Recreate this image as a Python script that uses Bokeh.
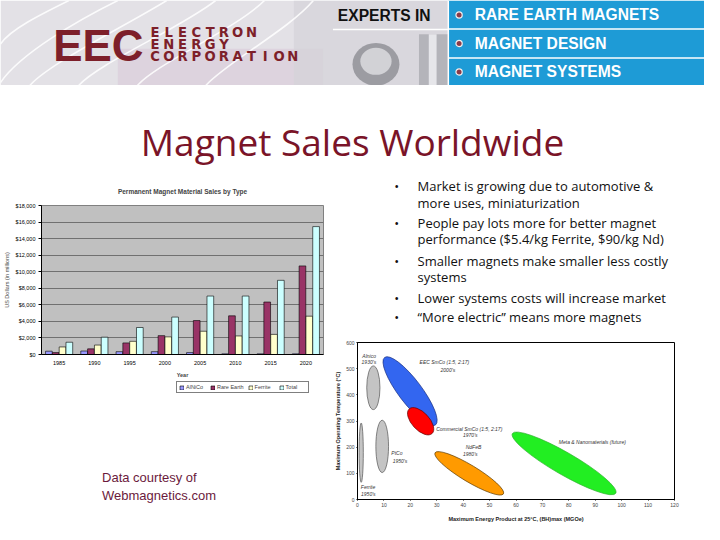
from bokeh.plotting import figure
from bokeh.models import (Range1d, FactorRange, ColumnDataSource, Legend, LegendItem,
                          NumeralTickFormatter, FixedTicker)
from bokeh.layouts import column, row
from bokeh.transform import dodge
from bokeh.core.properties import value
from bokeh.embed import file_html
from bokeh.resources import INLINE

# ---------------- data: bar chart ----------------
years = ["1985", "1990", "1995", "2000", "2005", "2010", "2015", "2020"]
alnico = [400, 420, 340, 340, 230, 80, 80, 80]
rare_earth = [230, 680, 1400, 2280, 4100, 4670, 6340, 10700]
ferrite = [910, 1140, 1590, 2130, 2810, 2240, 2430, 4630]
total = [1480, 2090, 3260, 4520, 7060, 7060, 8960, 15450]
series_names = ["AlNiCo", "Rare Earth", "Ferrite", "Total"]
sales_ticks = [0, 2000, 4000, 6000, 8000, 10000, 12000, 14000, 16000, 18000]

# ---------------- data: material map ----------------
materials = ["Ferrite", "Alnico", "PtCo", "EEC SmCo", "Commercial SmCo", "NdFeB", "Nanomaterials"]
mat_bh = [1.4, 6.0, 9.35, 19.9, 23.9, 42.3, 78.2]
mat_temp = [179, 427, 203, 414, 299, 100, 138]
mat_bh_span = [1.6, 5.0, 4.8, 32.0, 12.7, 30.2, 45.2]
mat_temp_span = [227, 167, 200, 89, 67, 63, 85]
mat_tilt = [0, 0, 0, -53, -47, -31, -30]
bh_ticks = [0, 10, 20, 30, 40, 50, 60, 70, 80, 90, 100, 110, 120]
temp_ticks = [0, 100, 200, 300, 400, 500, 600]

ann_text = ["Alnico", "1930's", "EEC SmCo (1:5, 2:17)", "2000's",
            "Commercial SmCo (1:5, 2:17)", "1970's", "NdFeB", "1980's",
            "Meta & Nanomaterials (future)", "PtCo", "1950's", "Ferrite", "1950's"]
ann_bh = [4.4, 4.3, 32.9, 34.2, 42.3, 42.7, 43.9, 42.7, 88.9, 14.9, 16.1, 4.0, 4.1]
ann_temp = [550, 524, 526, 496, 270, 247, 200, 173, 220, 176, 148, 47, 22]

bullets = [
    ["Market is growing due to automotive &", "more uses, miniaturization"],
    ["People pay lots more for better magnet", "performance ($5.4/kg Ferrite, $90/kg Nd)"],
    ["Smaller magnets make smaller less costly", "systems"],
    ["Lower systems costs will increase market"],
    ["\u201cMore electric\u201d means more magnets"],
]

FS = 0.975


def fpx(v):
    return f"{v * FS:.1f}px"


def canvas(w, h, x0, x1, y0, y1):
    p = figure(width=w, height=h, x_range=Range1d(x0, x1), y_range=Range1d(y1, y0),
               output_backend="svg", toolbar_location=None, min_border=0,
               x_axis_location=None, y_axis_location=None)
    p.grid.visible = False
    p.outline_line_color = None
    p.background_fill_color = "white"
    p.border_fill_color = "white"
    return p


# ---------------- header banner ----------------
hdr = canvas(704, 85, 0, 720, 0, 88)
hdr.quad(left=[0], right=[458], bottom=[88], top=[0], fill_color="#e3e1e6", line_color=None)
hdr.quad(left=[120], right=[330], bottom=[88], top=[50], fill_color="#d9c9d8", fill_alpha=0.6, line_color=None)
hdr.quad(left=[300], right=[458], bottom=[88], top=[0], fill_color="#d4d3d8", fill_alpha=0.7, line_color=None)
hdr.bezier(x0=[70, 120, 170, 220, 270, 320], y0=[0, 0, 0, 0, 0, 0],
           x1=[0, 0, 30, 80, 140, 210], y1=[45, 85, 88, 88, 88, 88],
           cx0=[40, 80, 130, 185, 240, 295], cy0=[15, 20, 25, 28, 30, 30],
           cx1=[10, 20, 50, 100, 160, 230], cy1=[30, 55, 65, 65, 65, 65],
           line_color="white", line_width=1.6, line_alpha=0.85)
hdr.ellipse(x=[384], y=[66], width=[48], height=[44], fill_color="#9c9ca2", line_color=None)
hdr.ellipse(x=[384], y=[63], width=[32], height=[28], fill_color="#d2d2d6", line_color=None)
hdr.quad(left=[428], right=[458], bottom=[88], top=[35], fill_color="#b4b4ba", line_color=None)
hdr.quad(left=[438], right=[446], bottom=[88], top=[35], fill_color="#e6e6ea", line_color=None)
hdr.quad(left=[458], right=[720], bottom=[88], top=[0], fill_color="#1e9bd6", line_color=None)
hdr.segment(x0=[458, 458, 340], y0=[29.5, 59.5, 30], x1=[720, 720, 458], y1=[29.5, 59.5, 30],
            line_color="white", line_width=1.5)
hdr.segment(x0=[458], y0=[0], x1=[458], y1=[88], line_color="white", line_width=1.5)
hdr.circle(x=[469, 469, 469], y=[15, 44.5, 74], radius=3.2, fill_color="#8c3a48",
           line_color="#f0f0f0", line_width=1.2)
hdr.text(x=[485, 485, 485], y=[15, 44.5, 74],
         text=["RARE EARTH MAGNETS", "MAGNET DESIGN", "MAGNET SYSTEMS"],
         text_font=value("Liberation Sans"), text_font_style="bold", text_font_size=fpx(16),
         text_color="white", text_baseline="middle", text_align="left")
hdr.text(x=[345], y=[16], text=["EXPERTS IN"], text_font=value("Liberation Sans"),
         text_font_style="bold", text_font_size=fpx(16), text_color="#111111",
         text_baseline="middle", text_align="left")
hdr.text(x=[54], y=[46.5], text=["EEC"], text_font=value("Liberation Sans"), text_font_style="bold",
         text_font_size=fpx(45), text_color="#7d1f2a", text_baseline="middle", text_align="left")
for word, yy in (("ELECTRON", 33.5), ("ENERGY", 45.5), ("CORPORATION", 57.5)):
    xs = [151 + 14.1 * i + 7 for i in range(len(word))]
    hdr.text(x=xs, y=[yy] * len(word), text=list(word), text_font=value("DejaVu Sans"),
             text_font_style="bold", text_font_size=fpx(13.5), text_color="#7d1f2a",
             text_baseline="middle", text_align="center")

# ---------------- slide title ----------------
ttl = canvas(704, 89, 0, 720, 88, 180)
ttl.text(x=[360], y=[146], text=["Magnet Sales Worldwide"], text_font=value("Open Sans"),
         text_font_size="37px", text_color="#7a1428", text_baseline="middle", text_align="center")

# ---------------- bar chart ----------------
src = ColumnDataSource(dict(year=years, alnico=alnico, rare=rare_earth, ferrite=ferrite, total=total))
bar = figure(width=332, height=206, x_range=FactorRange(factors=years), y_range=Range1d(0, 18000),
             output_backend="svg", toolbar_location=None,
             min_border_left=39, min_border_right=9, min_border_top=30, min_border_bottom=24)
bar.background_fill_color = "#c0c0c0"
bar.border_fill_color = "white"
bar.outline_line_color = "#808080"
bar.xgrid.visible = False
bar.ygrid.grid_line_color = "#707070"
bar.ygrid.grid_line_width = 1
cols = ["alnico", "rare", "ferrite", "total"]
fills = ["#9999ff", "#993366", "#ffffcc", "#ccffff"]
offs = [-0.29, -0.097, 0.097, 0.29]
for c, f, o in zip(cols, fills, offs):
    bar.vbar(x=dodge("year", o, range=bar.x_range), top=c, width=0.19, source=src,
             fill_color=f, line_color="#000000", line_width=0.6)
bar.yaxis.ticker = FixedTicker(ticks=sales_ticks)
bar.yaxis.formatter = NumeralTickFormatter(format="$0,0")
for ax in (bar.xaxis[0], bar.yaxis[0]):
    ax.major_label_text_font_size = "5.5px"
    ax.major_label_text_font = "Liberation Sans"
    ax.major_label_text_color = "#000000"
    ax.axis_label_text_font = "Liberation Sans"
    ax.axis_label_text_font_size = "5.5px"
    ax.axis_label_text_font_style = "bold"
    ax.minor_tick_line_color = None
    ax.major_tick_in = 0
    ax.major_tick_out = 3
    ax.major_tick_line_color = "#000000"
    ax.axis_line_color = "#000000"
    ax.major_label_standoff = 3
    ax.axis_label_standoff = 4
bar.xaxis.axis_label = "Year"
bar.yaxis.axis_label = "US Dollars (in millions)"
bar.yaxis.axis_label_text_font_style = "normal"
bar.yaxis.axis_label_standoff = 3
bar.xaxis.major_tick_line_color = None
bar.title.text = "Permanent Magnet Material Sales by Type"
bar.title.align = "center"
bar.title.text_font = "Liberation Sans"
bar.title.text_font_size = "6.5px"
bar.title.text_font_style = "bold"
bar.title.standoff = 22

# ---------------- legend + data note ----------------
note = canvas(332, 144, 0, 340, 392, 540)
proxy_src = ColumnDataSource(dict(x=[-1000.0], top=[0.0]))
proxies = []
for f in fills:
    proxies.append(note.vbar(x="x", top="top", width=1, source=proxy_src, visible=False,
                             fill_color=f, line_color="#000000", line_width=0.6))
leg = Legend(items=[LegendItem(label=n, renderers=[r]) for n, r in zip(series_names, proxies)],
             orientation="horizontal", location=(135, 131), label_text_font_size="5.5px",
             label_text_font="Liberation Sans", glyph_width=5, glyph_height=5, label_height=6,
             label_standoff=2, spacing=4, padding=2, margin=0, inactive_fill_alpha=0,
             border_line_color="#000000", border_line_width=0.6, background_fill_color="white")
note.add_layout(leg)
note.text(x=[73, 73], y=[492, 510], text=["Data courtesy of", "Webmagnetics.com"],
          text_font=value("Liberation Sans"), text_font_size=fpx(13.3), text_color="#6b1a3c",
          text_baseline="middle", text_align="left")

# ---------------- bullets ----------------
bul = canvas(372, 160, 340, 720, 180, 345)
line_y = [[192, 209], [230, 247], [269, 286], [307], [327]]
for lines, ys in zip(bullets, line_y):
    bul.text(x=[384], y=[ys[0]], text=["\u2022"], text_font=value("Open Sans"), text_font_size="13px",
             text_color="#111111", text_baseline="middle", text_align="left")
    bul.text(x=[412] * len(lines), y=ys, text=lines, text_font=value("Open Sans"), text_font_size="13px",
             text_color="#111111", text_baseline="middle", text_align="left")

# ---------------- material map ----------------
ell = figure(width=372, height=190, x_range=Range1d(0, 120), y_range=Range1d(0, 600),
             output_backend="svg", toolbar_location=None,
             min_border_left=19, min_border_right=30, min_border_top=8, min_border_bottom=25)
ell.grid.visible = False
ell.outline_line_color = "#000000"
ell.outline_line_width = 1
ell.border_fill_color = "white"
esrc = ColumnDataSource(dict(name=materials, x=mat_bh, y=mat_temp, w=mat_bh_span, h=mat_temp_span,
                             a=mat_tilt,
                             fill=["#c4c4c4", "#c4c4c4", "#c4c4c4", "#3366f0", "#ff0000", "#ff9a00", "#22ee22"],
                             line=["#555555", "#555555", "#555555", "#1a2f80", "#600000", "#5a3a00", "#30b030"]))
ell.ellipse(x="x", y="y", width="w", height="h", angle="a", angle_units="deg", source=esrc,
            fill_color="fill", line_color="line", line_width=0.7)
ell.text(x=ann_bh, y=ann_temp, text=ann_text, text_font=value("Liberation Sans"),
         text_font_style="italic", text_font_size="5px", text_color="#333333",
         text_baseline="middle", text_align="center")
ell.xaxis.ticker = FixedTicker(ticks=bh_ticks)
ell.yaxis.ticker = FixedTicker(ticks=temp_ticks)
for ax in (ell.xaxis[0], ell.yaxis[0]):
    ax.major_label_text_font_size = "5px"
    ax.major_label_text_font = "Liberation Sans"
    ax.major_label_text_color = "#444444"
    ax.axis_label_text_font = "Liberation Sans"
    ax.axis_label_text_font_size = "5.5px"
    ax.axis_label_text_font_style = "bold"
    ax.axis_label_text_color = "#222222"
    ax.minor_tick_line_color = None
    ax.major_tick_in = 0
    ax.major_tick_out = 1
    ax.axis_line_color = "#000000"
    ax.major_label_standoff = 2
ell.xaxis.axis_label = "Maximum Energy Product at 25\u00b0C, (BH)max (MGOe)"
ell.yaxis.axis_label = "Maximum Operating Temperature (\u00b0C)"
ell.xaxis.axis_label_standoff = 6
ell.yaxis.axis_label_standoff = 2

layout = column(hdr, ttl, row(column(bar, note), column(bul, ell)))
open("out.html", "w").write(file_html(layout, INLINE))
